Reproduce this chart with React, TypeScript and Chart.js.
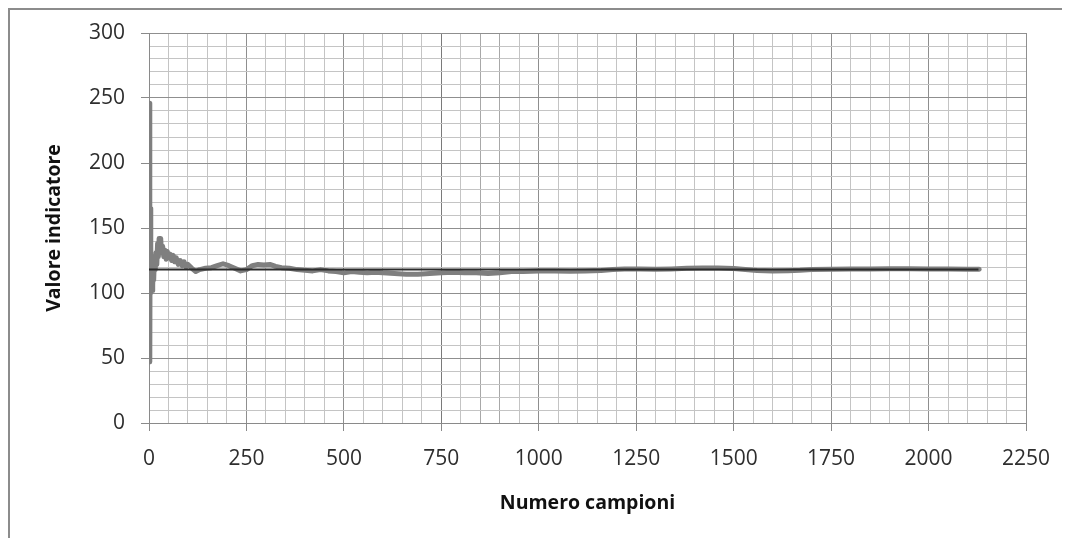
import { useEffect, useRef } from 'react';
import { Chart, registerables } from 'chart.js';

Chart.register(...registerables);

// Running value of the indicator (sample number -> value)
const sampleX = [
  1, 2, 3, 4, 5, 6, 7, 8, 9, 10, 11, 12, 14, 16, 18, 20, 22, 24, 26, 28, 30, 32, 35, 38, 41, 44, 47, 50, 54, 58,
  62, 66, 70, 75, 80, 85, 90, 95, 100, 110, 120, 130, 145, 160, 175, 190, 205, 220, 235, 250, 265, 280, 295, 310,
  325, 340, 360, 380, 400, 420, 440, 460, 480, 500, 520, 540, 560, 580, 600, 630, 660, 690, 720, 750, 780, 810,
  840, 870, 900, 930, 960, 1000, 1040, 1080, 1120, 1160, 1190, 1220, 1260, 1300, 1340, 1380, 1420, 1460, 1500,
  1530, 1560, 1600, 1640, 1670, 1700, 1750, 1800, 1850, 1900, 1950, 2000, 2050, 2100, 2130,
];
const indicatorY = [
  246, 47, 165, 100, 135, 104, 128, 102, 120, 106, 125, 110, 128, 118, 131, 122, 138, 128, 142, 135, 142, 131, 136,
  128, 133, 126, 132, 127, 130, 125, 129, 124, 127, 122, 125, 121, 124, 120, 122, 119, 116.5, 118, 119, 119.5, 121,
  122.5, 121, 119, 117, 118, 121, 122, 121.5, 122, 120.5, 119.5, 119, 118, 117.5, 117, 118, 117, 116.5, 115.5,
  116.5, 116, 115.5, 116, 115.5, 115, 114.5, 114.5, 115, 115.5, 116, 115.5, 115.5, 115, 115.5, 116.5, 116.5, 117,
  117, 116.8, 117, 117.3, 118, 118.5, 118.5, 118.2, 118.5, 119, 119.2, 119.3, 118.8, 118, 117.3, 117, 117.2, 117.5,
  118, 118.3, 118.4, 118.5, 118.6, 118.6, 118.5, 118.4, 118.3, 118.2,
];
// Reference (mean) line
const refX = [0, 2128];
const refY = [118, 118];

// Axis ticks
const xMajorTicks = [0, 250, 500, 750, 1000, 1250, 1500, 1750, 2000, 2250];
const yMajorTicks = [0, 50, 100, 150, 200, 250, 300];
const xDarkLines = [750];
const xMidLines = [850, 900];

const FONT = '"Open Sans", "Liberation Sans", sans-serif';

export default function App() {
  const canvasRef = useRef<HTMLCanvasElement | null>(null);

  useEffect(() => {
    const canvas = canvasRef.current;
    if (!canvas) return;
    const seriesData = sampleX.map((x, i) => ({ x, y: indicatorY[i] }));
    const refData = refX.map((x, i) => ({ x, y: refY[i] }));

    const chart = new Chart(canvas, {
      type: 'scatter',
      data: {
        datasets: [
          {
            label: 'Media',
            data: refData,
            showLine: true,
            borderColor: '#2b2b2b',
            borderWidth: 2,
            pointRadius: 0,
            order: 0,
          },
          {
            label: 'Valore indicatore',
            data: seriesData,
            showLine: true,
            borderColor: '#7f7f7f',
            borderWidth: 5,
            borderJoinStyle: 'round',
            borderCapStyle: 'round',
            pointRadius: 0,
            tension: 0,
            order: 1,
          },
        ],
      },
      options: {
        responsive: false,
        animation: false,
        devicePixelRatio: 1,
        layout: { padding: { top: 23, right: 38, left: 0, bottom: 0 } },
        plugins: { legend: { display: false }, tooltip: { enabled: false } },
        scales: {
          x: {
            type: 'linear',
            min: 0,
            max: 2250,
            afterFit: (s: any) => {
              s.height = 109;
              s.paddingLeft = 0;
              s.paddingRight = 0;
            },
            ticks: {
              stepSize: 50,
              maxTicksLimit: 100,
              autoSkip: false,
              maxRotation: 0,
              padding: 15,
              color: '#2e2e2e',
              font: { family: FONT, size: 21 },
              callback: (v: any) => (xMajorTicks.includes(Number(v)) ? String(v) : ''),
            },
            grid: {
              color: (ctx: any) => {
                const v = ctx.tick ? ctx.tick.value : 0;
                if (xDarkLines.includes(v)) return '#7a7a7a';
                if (xMidLines.includes(v)) return '#a8a8a8';
                return xMajorTicks.includes(v) ? '#8f8f8f' : '#c4c4c4';
              },
              lineWidth: 1,
              tickLength: 8,
              tickColor: (ctx: any) =>
                ctx.tick && xMajorTicks.includes(ctx.tick.value) ? '#8a8a8a' : 'rgba(0,0,0,0)',
            },
            border: { color: '#8a8a8a', width: 1 },
            title: {
              display: true,
              text: 'Numero campioni',
              color: '#111111',
              font: { family: FONT, size: 19.5, weight: 'bold' },
              padding: { top: 0, bottom: 17 },
            },
          },
          y: {
            type: 'linear',
            min: 0,
            max: 300,
            afterFit: (s: any) => {
              s.width = 139;
              s.paddingTop = 0;
              s.paddingBottom = 0;
            },
            ticks: {
              stepSize: 10,
              maxTicksLimit: 100,
              autoSkip: false,
              padding: 16,
              color: '#2e2e2e',
              font: { family: FONT, size: 21 },
              callback: (v: any) => (yMajorTicks.includes(Number(v)) ? String(v) : ''),
            },
            grid: {
              color: (ctx: any) =>
                ctx.tick && yMajorTicks.includes(ctx.tick.value) ? '#8f8f8f' : '#c4c4c4',
              lineWidth: 1,
              tickLength: 8,
              tickColor: (ctx: any) =>
                ctx.tick && yMajorTicks.includes(ctx.tick.value) ? '#8a8a8a' : 'rgba(0,0,0,0)',
            },
            border: { color: '#8a8a8a', width: 1 },
            title: {
              display: true,
              text: 'Valore indicatore',
              color: '#111111',
              font: { family: FONT, size: 19.5, weight: 'bold' },
              padding: { top: 33, bottom: 0 },
            },
          },
        },
      },
    });
    return () => chart.destroy();
  }, []);

  return (
    <div
      style={{
        position: 'relative',
        width: 1062,
        height: 530,
        borderTop: '2px solid #8c8c8c',
        borderLeft: '2px solid #8c8c8c',
        overflow: 'hidden',
      }}
    >
      <canvas ref={canvasRef} width={1054} height={522} style={{ display: 'block' }} />
    </div>
  );
}
